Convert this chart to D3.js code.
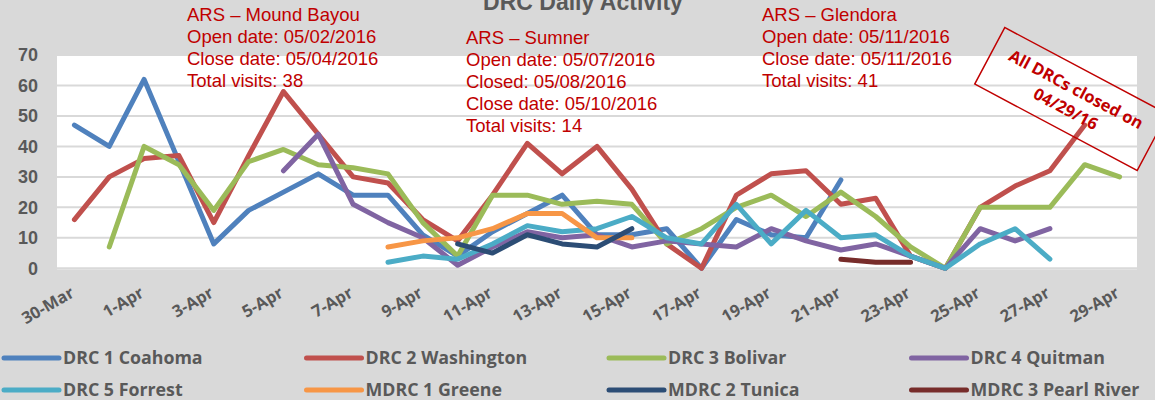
<!DOCTYPE html>
<html>
<head>
<meta charset="utf-8">
<script src="https://cdn.jsdelivr.net/npm/d3@7"></script>
<style>
  body { margin: 0; background: #d9d9d9; }
  svg { display: block; }
</style>
</head>
<body>
<div id="app"></div>
<script>
// categories (one per day)
const dates = ["30-Mar","31-Mar","1-Apr","2-Apr","3-Apr","4-Apr","5-Apr","6-Apr","7-Apr","8-Apr",
  "9-Apr","10-Apr","11-Apr","12-Apr","13-Apr","14-Apr","15-Apr","16-Apr","17-Apr","18-Apr",
  "19-Apr","20-Apr","21-Apr","22-Apr","23-Apr","24-Apr","25-Apr","26-Apr","27-Apr","28-Apr","29-Apr"];

const yTicks = [0, 10, 20, 30, 40, 50, 60, 70];

const seriesNames = ["DRC 1 Coahoma","DRC 2 Washington","DRC 3 Bolivar","DRC 4 Quitman",
  "DRC 5 Forrest","MDRC 1 Greene","MDRC 2 Tunica","MDRC 3 Pearl River"];

const _ = null;
const coahoma    = [47,40,62,35,8,19,25,31,24,24,11,4,12,18,24,11,11,13,0,16,11,10,29,_,_,_,_,_,_,_,_];
const washington = [16,30,36,37,15,37,58,44,30,28,16,9,24,41,31,40,26,8,0,24,31,32,21,23,4,0,20,27,32,47,_];
const bolivar    = [_,7,40,34,19,35,39,34,33,31,15,4,24,24,21,22,21,8,13,20,24,17,25,17,7,0,20,20,20,34,30];
const quitman    = [_,_,_,_,_,_,32,44,21,15,10,1,7,12,10,11,7,9,8,7,13,9,6,8,4,0,13,9,13,_,_];
const forrest    = [_,_,_,_,_,_,_,_,_,2,4,3,8,14,12,13,17,10,8,21,8,19,10,11,4,0,8,13,3,_,_];
const greene     = [_,_,_,_,_,_,_,_,_,7,9,10,13,18,18,10,10,_,_,_,_,_,_,_,_,_,_,_,_,_,_];
const tunica     = [_,_,_,_,_,_,_,_,_,_,_,8,5,11,8,7,13,_,_,_,_,_,_,_,_,_,_,_,_,_,_];
const pearlRiver = [_,_,_,_,_,_,_,_,_,_,_,_,_,_,_,_,_,_,_,_,_,_,3,2,2,_,_,_,_,_,_];

const colors = ["#4F81BD","#C0504D","#9BBB59","#8064A2","#4BACC6","#F79646","#2C4D75","#772C2A"];

const notes = [
  {x: 187, y: 21, lines: ["ARS \u2013 Mound Bayou","Open date: 05/02/2016","Close date: 05/04/2016","Total visits: 38"]},
  {x: 466, y: 44, lines: ["ARS \u2013 Sumner","Open date: 05/07/2016","Closed: 05/08/2016","Close date: 05/10/2016","Total visits: 14"]},
  {x: 762, y: 21, lines: ["ARS \u2013 Glendora","Open date: 05/11/2016","Close date: 05/11/2016","Total visits: 41"]}
];

const w = 1155, h = 400;
const plotLeft = 57, plotRight = 1137, plotTop = 55, plotBottom = 268.3;

const svg = d3.select("#app")
  .append("svg")
  .attr("width", w)
  .attr("height", h)
  .style("background-color", "#d9d9d9");

const xScale = d3.scalePoint()
  .domain(dates)
  .range([plotLeft, plotRight])
  .padding(0.5);

const yScale = d3.scaleLinear()
  .domain([0, 70])
  .range([plotBottom, plotTop]);

// plot area
svg.append("rect")
  .attr("x", plotLeft)
  .attr("y", plotTop)
  .attr("width", plotRight - plotLeft)
  .attr("height", plotBottom - plotTop + 1)
  .attr("fill", "#fff");

// grid lines
svg.append("g")
  .selectAll("line")
  .data(yTicks)
  .enter()
  .append("line")
  .attr("x1", plotLeft)
  .attr("x2", plotRight)
  .attr("y1", d => yScale(d))
  .attr("y2", d => yScale(d))
  .attr("stroke", "#d9d9d9")
  .attr("stroke-width", 2);

// y axis labels
const yAxis = d3.axisLeft(yScale).tickValues(yTicks).tickSize(0).tickPadding(0);
svg.append("g")
  .attr("id", "y-axis")
  .attr("transform", "translate(38,0)")
  .call(yAxis)
  .call(g => g.select(".domain").remove())
  .selectAll("text")
  .attr("fill", "#595959")
  .style("font-family", "'Liberation Sans', Arial, sans-serif")
  .style("font-size", "18px")
  .style("font-weight", "bold");

// x axis labels, every other day, rotated
const xAxis = d3.axisBottom(xScale)
  .tickValues(dates.filter((d, i) => i % 2 === 0))
  .tickSize(0)
  .tickPadding(0);
svg.append("g")
  .attr("id", "x-axis")
  .call(xAxis)
  .call(g => g.select(".domain").remove())
  .call(g => g.selectAll(".tick").attr("transform", null))
  .selectAll("text")
  .attr("fill", "#595959")
  .attr("dy", null)
  .attr("y", 0)
  .attr("x", 0)
  .attr("text-anchor", "end")
  .attr("transform", d => "translate(" + (xScale(d) + 1) + "," + 296 + ") rotate(-30)")
  .style("font-family", "'Open Sans', sans-serif")
  .style("font-size", "16.5px")
  .style("font-weight", "bold");

// lines
const allSeries = [coahoma, washington, bolivar, quitman, forrest, greene, tunica, pearlRiver];
const line = d3.line()
  .defined(d => d != null)
  .x((d, i) => xScale(dates[i]))
  .y(d => yScale(d));

svg.append("g")
  .selectAll("path")
  .data(allSeries)
  .enter()
  .append("path")
  .attr("d", d => line(d))
  .attr("fill", "none")
  .attr("stroke", (d, i) => colors[i])
  .attr("stroke-width", 5)
  .attr("stroke-linejoin", "round")
  .attr("stroke-linecap", "round");

// title (sits mostly above the frame, as in the original)
svg.append("text")
  .attr("x", 583)
  .attr("y", 10)
  .attr("text-anchor", "middle")
  .attr("fill", "#595959")
  .style("font-family", "'Liberation Sans', Arial, sans-serif")
  .style("font-size", "23px")
  .style("font-weight", "bold")
  .text("DRC Daily Activity");

// ARS notes
notes.forEach(n => {
  const t = svg.append("text")
    .attr("fill", "#c00000")
    .style("font-family", "'Liberation Sans', Arial, sans-serif")
    .style("font-size", "18.5px");
  n.lines.forEach((l, i) => {
    t.append("tspan").attr("x", n.x).attr("y", n.y + i * 22).text(l);
  });
});

// rotated "closed" box
const box = svg.append("g")
  .attr("transform", "translate(1071,99) rotate(28)");
box.append("rect")
  .attr("x", -92)
  .attr("y", -32)
  .attr("width", 184)
  .attr("height", 64)
  .attr("fill", "none")
  .attr("stroke", "#c00000")
  .attr("stroke-width", 1.5);
box.append("text")
  .attr("text-anchor", "middle")
  .attr("fill", "#c00000")
  .style("font-family", "'Open Sans', sans-serif")
  .style("font-size", "16.5px")
  .style("font-weight", "bold")
  .selectAll("tspan")
  .data(["All DRCs closed on", "04/29/16"])
  .enter()
  .append("tspan")
  .attr("x", 0)
  .attr("y", (d, i) => -5 + i * 22)
  .text(d => d);

// legend
const legend = svg.append("g").attr("id", "legend");
const items = legend.selectAll("g")
  .data(seriesNames)
  .enter()
  .append("g")
  .attr("transform", (d, i) => "translate(" + (4 + (i % 4) * 302.5) + "," + (i < 4 ? 358 : 390) + ")");

items.append("line")
  .attr("x1", 0)
  .attr("x2", 55)
  .attr("stroke", (d, i) => colors[i])
  .attr("stroke-width", 5)
  .attr("stroke-linecap", "round");

items.append("text")
  .attr("x", 59)
  .attr("dy", "0.35em")
  .attr("fill", "#595959")
  .style("font-family", "'Open Sans', sans-serif")
  .style("font-size", "17.8px")
  .style("font-weight", "bold")
  .text(d => d);
</script>
</body>
</html>
